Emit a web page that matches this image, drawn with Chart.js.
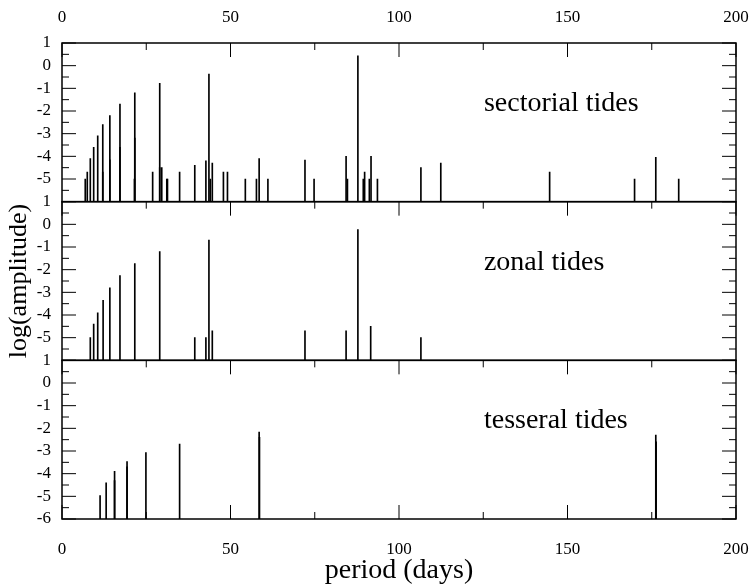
<!DOCTYPE html>
<html>
<head>
<meta charset="utf-8">
<script src="https://cdn.jsdelivr.net/npm/chart.js@4.4.0/dist/chart.umd.min.js"></script>
<style>
  body { margin: 0; background: #fff; }
  #wrap { width: 753px; height: 585px; }
</style>
</head>
<body>
<div id="wrap"><canvas id="tides"></canvas></div>
<script>
// periodo (dias) y log10 de la amplitud de cada linea
const sectorialPeriod = [6.9, 7.5, 8.4, 9.4, 10.6, 12.1, 12.1, 14.2, 14.2, 17.2, 17.2, 21.6, 21.6, 21.5,
  26.9, 29.0, 29.0, 29.6, 31.1, 31.3, 34.9, 39.4, 42.7, 43.6, 44.0, 44.6, 47.9, 49.1, 54.4, 57.7,
  58.5, 61.1, 72.1, 74.8, 84.3, 84.7, 87.8, 89.4, 89.8, 91.2, 91.7, 93.6, 106.5, 112.4, 144.7,
  169.9, 176.2, 183.0];
const sectorialLogAmp = [-5.0, -4.7, -4.1, -3.6, -3.1, -2.6, -4.7, -2.2, -4.15, -1.7, -3.6, -1.2, -3.2, -5.0,
  -4.7, -0.78, -4.5, -4.5, -5.0, -5.0, -4.7, -4.4, -4.2, -0.37, -5.0, -4.3, -4.7, -4.7, -5.0, -5.0,
  -4.1, -5.0, -4.17, -5.0, -4.0, -5.0, 0.43, -5.0, -4.7, -5.0, -4.0, -5.0, -4.5, -4.3, -4.7,
  -5.0, -4.04, -5.0];

const zonalPeriod = [8.4, 9.4, 10.6, 12.2, 14.2, 17.2, 21.6, 29.0, 39.4, 42.7, 43.6, 44.6, 72.1, 84.3, 87.8, 91.6, 106.5];
const zonalLogAmp = [-5.0, -4.4, -3.9, -3.35, -2.8, -2.26, -1.73, -1.2, -5.0, -5.0, -0.69, -4.7, -4.7, -4.7, -0.23, -4.5, -5.0];

const tesseralPeriod = [11.3, 13.1, 15.6, 15.6, 19.3, 19.3, 24.9, 34.9, 58.5, 58.6, 176.2, 176.3];
const tesseralLogAmp = [-4.97, -4.4, -3.9, -4.3, -3.47, -3.7, -3.07, -2.69, -2.17, -2.4, -2.3, -2.6];

const panelLabels = ['sectorial tides', 'zonal tides', 'tesseral tides'];
const panelAxes = ['ys', 'yz', 'yt'];
const yMin = -6, yMax = 1;
const xMin = 0, xMax = 200;

const serif = '"Liberation Serif", "DejaVu Serif", serif';
const tickFont = { family: serif, size: 17 };

const toBars = (periods, amps) => periods.map((p, i) => ({ x: p, y: [yMin, amps[i]] }));

const spikeSet = (data, axis) => ({
    data: data,
    yAxisID: axis,
    backgroundColor: '#000',
    borderWidth: 0,
    barThickness: 1,
    grouped: false
});

const yAxis = (showBottom, title) => ({
    type: 'linear',
    position: 'left',
    stack: 'tides',
    stackWeight: 1,
    min: yMin,
    max: yMax,
    grid: { display: false },
    border: { display: false },
    ticks: {
        stepSize: 1,
        autoSkip: false,
        font: tickFont,
        color: '#000',
        padding: 3,
        callback: (v) => (v === yMin && !showBottom) ? '' : String(v)
    },
    title: { display: !!title, text: title || '', font: { family: serif, size: 26 }, color: '#000', padding: 4 },
    afterFit: (s) => { s.width = 62; }
});

// marcos de cada panel, ticks hacia dentro y etiquetas de texto
const framePlugin = {
    id: 'frames',
    afterDatasetsDraw(chart) {
        const { ctx, chartArea: a } = chart;
        const xs = chart.scales.x;
        ctx.save();
        ctx.strokeStyle = '#000';
        panelAxes.forEach((id, i) => {
            const s = chart.scales[id];
            ctx.lineWidth = 1.5;
            ctx.strokeRect(a.left, s.top, a.right - a.left, s.bottom - s.top);
            ctx.beginPath();
            for (let v = yMin; v <= yMax; v += 0.5) {
                const y = s.getPixelForValue(v);
                const len = Number.isInteger(v) ? 14 : 7;
                ctx.moveTo(a.left, y); ctx.lineTo(a.left + len, y);
                ctx.moveTo(a.right, y); ctx.lineTo(a.right - len, y);
            }
            for (let d = xMin; d <= xMax; d += 25) {
                const x = xs.getPixelForValue(d);
                const len = d % 50 === 0 ? 14 : 7;
                ctx.moveTo(x, s.top); ctx.lineTo(x, s.top + len);
                if (i === panelAxes.length - 1) {
                    ctx.moveTo(x, s.bottom); ctx.lineTo(x, s.bottom - len);
                }
            }
            ctx.lineWidth = 1;
            ctx.stroke();

            ctx.font = '28px ' + serif;
            ctx.fillStyle = '#000';
            ctx.textAlign = 'left';
            ctx.textBaseline = 'alphabetic';
            ctx.fillText(panelLabels[i], xs.getPixelForValue(125.2), s.getPixelForValue(-2));
        });
        ctx.restore();
    }
};

const xTicks = { stepSize: 50, font: tickFont, color: '#000', maxRotation: 0 };

// alto fijo para el eje x y sin margen extra por la etiqueta "200"
const fixX = (h) => (s) => { s.height = h; s.paddingLeft = 0; s.paddingRight = 0; };

new Chart(document.getElementById('tides').getContext('2d'), {
    type: 'bar',
    data: {
        datasets: [
            spikeSet(toBars(sectorialPeriod, sectorialLogAmp), 'ys'),
            spikeSet(toBars(zonalPeriod, zonalLogAmp), 'yz'),
            spikeSet(toBars(tesseralPeriod, tesseralLogAmp), 'yt')
        ]
    },
    options: {
        responsive: true,
        maintainAspectRatio: false,
        animation: false,
        layout: { padding: { left: 0, right: 17, top: 0, bottom: 0 } },
        plugins: {
            legend: { display: false },
            tooltip: { enabled: false }
        },
        scales: {
            x: {
                type: 'linear',
                position: 'bottom',
                min: xMin,
                max: xMax,
                offset: false,
                grid: { display: false },
                border: { display: false },
                ticks: Object.assign({ padding: 12 }, xTicks),
                title: { display: true, text: 'period (days)', font: { family: serif, size: 28 }, color: '#000', padding: { top: 0, bottom: -2 } },
                afterFit: fixX(66)
            },
            x2: {
                type: 'linear',
                position: 'top',
                min: xMin,
                max: xMax,
                offset: false,
                grid: { display: false },
                border: { display: false },
                ticks: Object.assign({ padding: 7 }, xTicks),
                afterFit: fixX(43)
            },
            // el primer eje de la pila queda abajo
            yt: yAxis(true),
            yz: yAxis(false, 'log(amplitude)'),
            ys: yAxis(false)
        }
    },
    plugins: [framePlugin]
});
</script>
</body>
</html>
